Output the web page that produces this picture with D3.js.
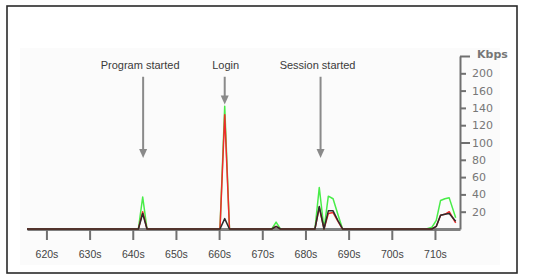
<!DOCTYPE html>
<html>
<head>
<meta charset="utf-8">
<script src="https://cdn.jsdelivr.net/npm/d3@7"></script>
<style>
  body { margin: 0; background: #fff; }
  svg { display: block; }
</style>
</head>
<body>
<div id="chart"></div>
<script>
// sample times (seconds) and the three bandwidth series (Kbps)
const seconds = [615.5, 641.3, 642.3, 643.3, 660.2, 661.3, 662.4, 672.2, 673.2, 674.2,
                 682.2, 683.2, 684.3, 685.3, 686.4, 687.5, 688.6, 708.0, 709.3, 710.3,
                 711.3, 712.3, 713.3, 714.8];
const greenKbps = [0, 0, 37, 0, 0, 142, 0, 0, 8, 0, 0, 48, 0, 38, 35, 17, 0, 0, 2, 10, 33, 35, 36, 13];
const redKbps   = [0, 0, 20, 0, 0, 132, 0, 0, 3, 0, 0, 25, 0, 18, 19, 9, 0, 0, 0, 3, 16, 17, 20, 7];
const blackKbps = [0, 0, 18, 0, 0, 12, 0, 0, 3, 0, 0, 26, 0, 21, 21, 10, 0, 0, 0, 3, 16, 17, 18, 9];

const xTicks = [620, 630, 640, 650, 660, 670, 680, 690, 700, 710];
const yTicks = [20, 40, 60, 80, 100, 120, 140, 160, 180, 200];
const yTickLabels = ["20", "40", "60", "80", "100", "120", "140", "160", "200", "Kbps"];

const eventLabels = ["Program started", "Login", "Session started"];
const eventSeconds = [642.4, 661.3, 683.5];
const eventTipKbps = [82, 144, 82];

const width = 556, height = 280;

const svg = d3.select("#chart").append("svg")
    .attr("width", width)
    .attr("height", height);

// frame + light panel
svg.append("rect")
    .attr("x", 7).attr("y", 6).attr("width", 510).attr("height", 267)
    .attr("fill", "#fff").attr("stroke", "#2a2a2a").attr("stroke-width", 1.6);
svg.append("rect")
    .attr("x", 20).attr("y", 48).attr("width", 480).attr("height", 217)
    .attr("fill", "#fbfbfb");

const x = d3.scaleLinear().domain([615.5, 715.8]).range([27, 460]);
const y = d3.scaleLinear().domain([0, 200]).range([229, 56]);

// x axis
const xAxis = svg.append("g")
    .attr("transform", `translate(0,${y(0)})`)
    .call(d3.axisBottom(x)
        .tickValues(xTicks)
        .tickSizeOuter(0)
        .tickSizeInner(11)
        .tickPadding(11)
        .tickFormat(d => d + "s"));
xAxis.select(".domain").attr("stroke", "#808080").attr("stroke-width", 3);
xAxis.selectAll(".tick line").attr("stroke", "#707070").attr("stroke-width", 2);
xAxis.selectAll(".tick text")
    .attr("fill", "#444")
    .style("font-family", "'Liberation Sans', Arial, sans-serif")
    .style("font-size", "10.5px");

// y axis on the right
const yAxis = svg.append("g")
    .attr("transform", `translate(${x.range()[1]},0)`)
    .call(d3.axisRight(y)
        .tickValues(yTicks)
        .tickSizeOuter(0)
        .tickSizeInner(6)
        .tickPadding(6)
        .tickFormat((d, i) => yTickLabels[i]));
yAxis.select(".domain").attr("stroke", "#707070").attr("stroke-width", 2);
yAxis.selectAll(".tick line")
    .attr("stroke", "#707070").attr("stroke-width", 2)
    .attr("x2", d => (d === 100 || d === 200) ? 10 : 6);
yAxis.selectAll(".tick text")
    .attr("fill", "#777")
    .attr("x", d => d === 200 ? 17 : 12)
    .attr("dy", d => d === 200 ? "0.1em" : "0.32em")
    .style("font-family", "'DejaVu Sans', Verdana, sans-serif")
    .style("font-size", "11px")
    .style("font-weight", d => d === 200 ? "bold" : "normal");

// series
const series = [
    { values: greenKbps, color: "#48ec48" },
    { values: redKbps, color: "#f02a2a" },
    { values: blackKbps, color: "#2b2b2b" }
];

const line = d3.line()
    .x(d => x(d[0]))
    .y(d => y(d[1]));

for (let s of series) {
    svg.append("path")
        .datum(seconds.map((t, i) => [t, s.values[i]]))
        .attr("fill", "none")
        .attr("stroke", s.color)
        .attr("stroke-width", 1.5)
        .attr("stroke-linejoin", "round")
        .attr("d", line);
}

// event annotations
const events = svg.append("g");
eventLabels.forEach((label, i) => {
    const ex = x(eventSeconds[i]);
    const top = y(176), tip = y(eventTipKbps[i]);
    events.append("line")
        .attr("x1", ex).attr("x2", ex)
        .attr("y1", top).attr("y2", tip - 7)
        .attr("stroke", "#8a8a8a").attr("stroke-width", 2);
    events.append("path")
        .attr("d", `M${ex - 4},${tip - 9}L${ex + 4},${tip - 9}L${ex},${tip}Z`)
        .attr("fill", "#8a8a8a");
    events.append("text")
        .attr("x", ex - (label === "Login" ? -1 : 3))
        .attr("y", 69)
        .attr("text-anchor", "middle")
        .attr("fill", "#3a3a3a")
        .style("font-family", "'Liberation Sans', Arial, sans-serif")
        .style("font-size", "11px")
        .text(label);
});
</script>
</body>
</html>
